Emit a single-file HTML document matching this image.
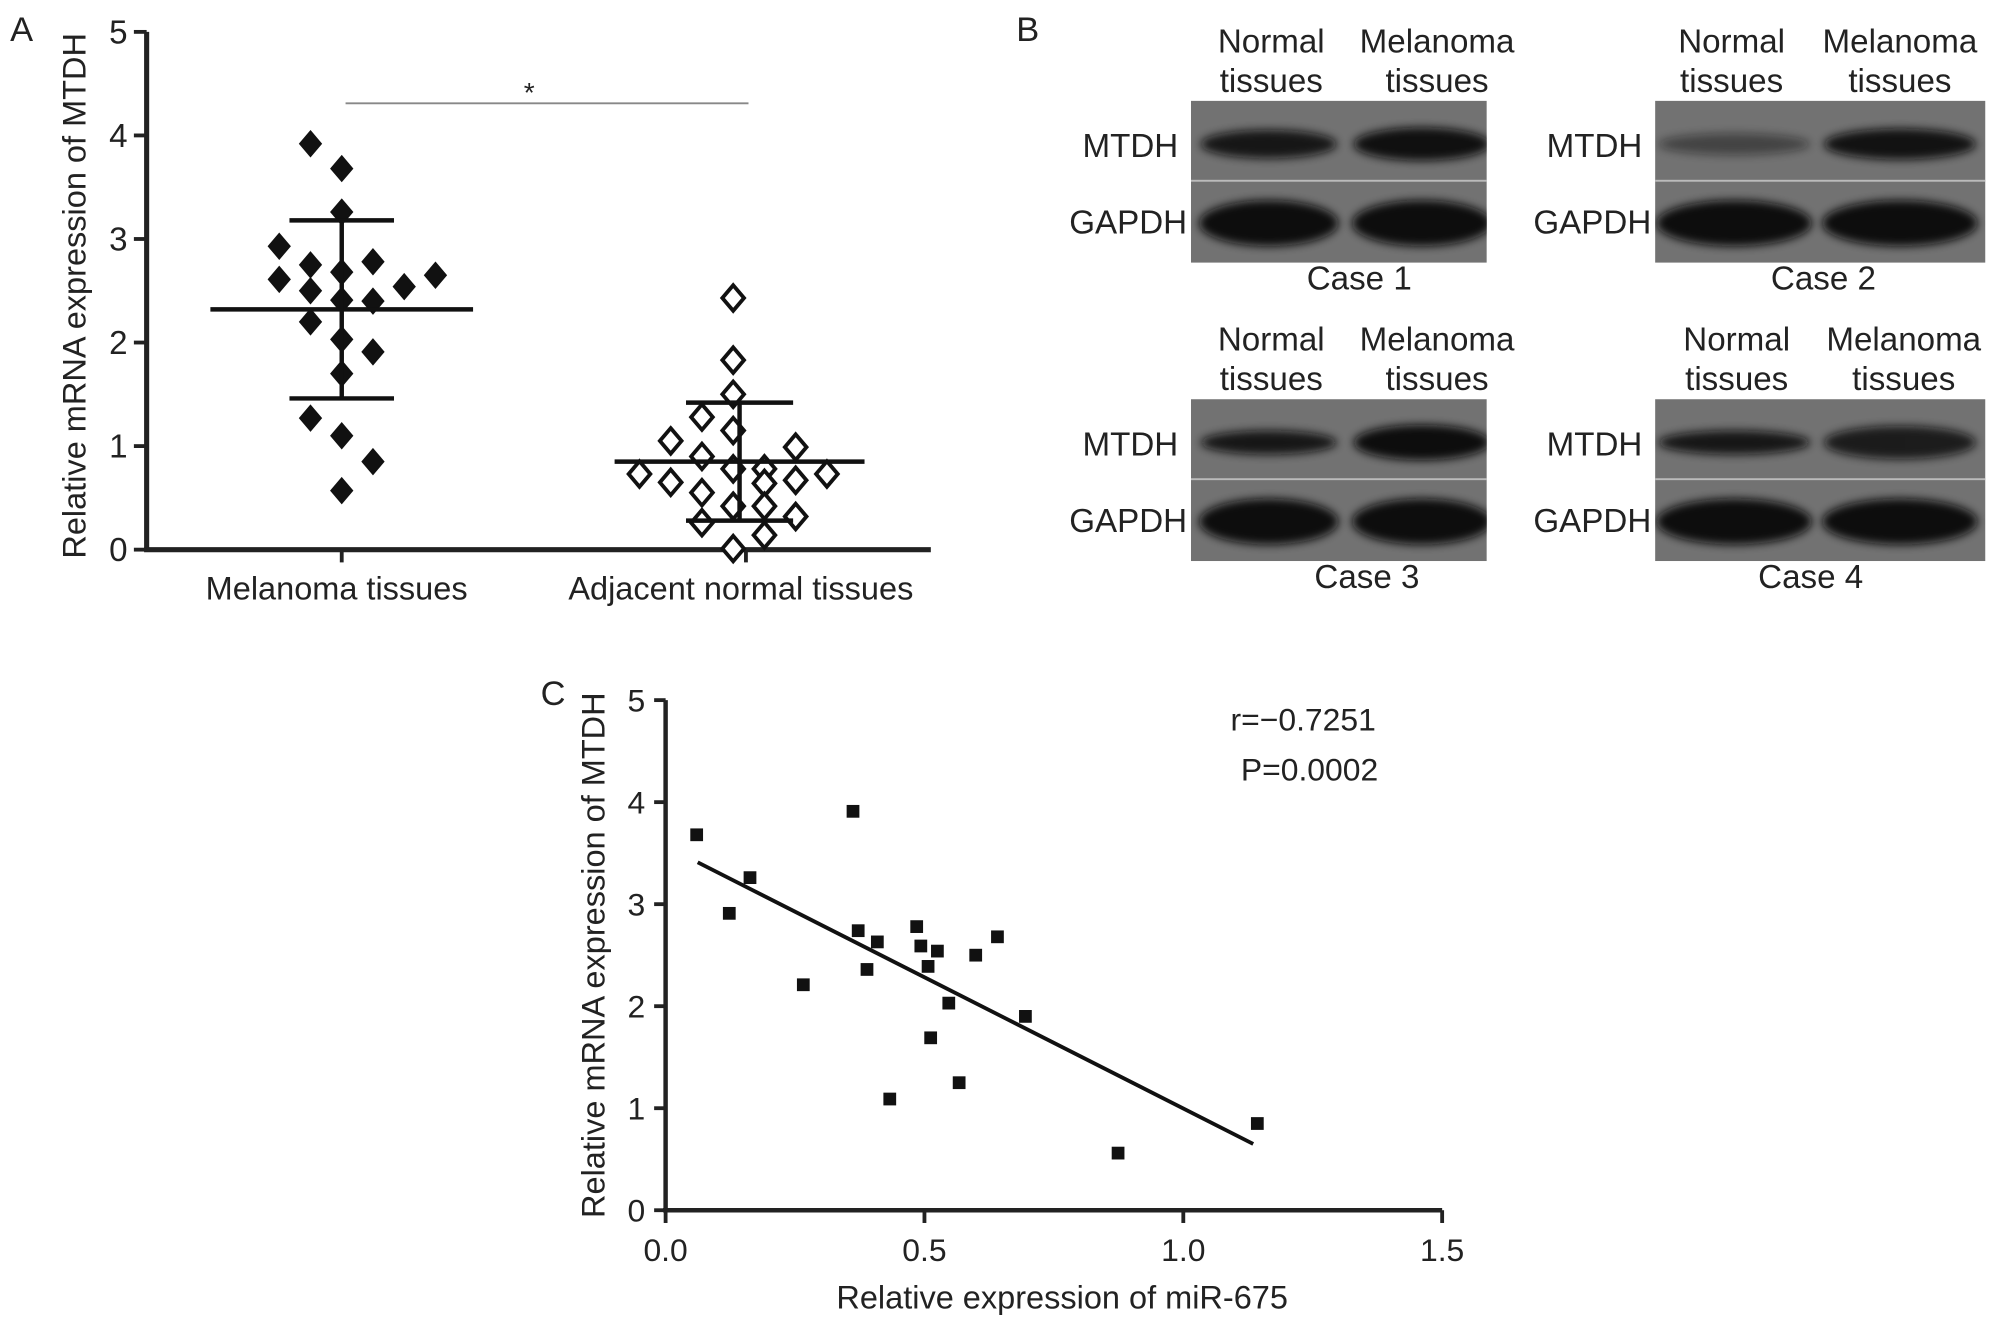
<!DOCTYPE html>
<html><head><meta charset="utf-8"><style>
html,body{margin:0;padding:0;background:#fff}
svg{display:block}
text{font-family:"Liberation Sans",sans-serif;fill:#222}
</style></head><body>
<svg id="fig" width="1993" height="1325" viewBox="0 0 1563 1039" preserveAspectRatio="none">
<defs id="defs"><filter id="blur" x="-20%" y="-50%" width="140%" height="200%"><feGaussianBlur stdDeviation="3.5"/></filter></defs>
<g id="panelA"></g>
<g id="panelB"></g>
<g id="panelC"></g>
</svg>
<script>
const NS='http://www.w3.org/2000/svg';
// Panel A data
const aCategories=['Melanoma tissues','Adjacent normal tissues'];
const aTicks=[0,1,2,3,4,5];
const melanomaValues=[3.92,3.68,3.26,2.93,2.75,2.68,2.78,2.61,2.5,2.54,2.65,2.41,2.4,2.2,2.03,1.91,1.7,1.27,1.1,0.85,0.57];
const melanomaOffsets=[-1,0,0,-2,-1,0,1,-2,-1,2,3,0,1,-1,0,1,0,-1,0,1,0];
const normalValues=[2.43,1.83,1.5,1.28,1.15,1.05,0.9,0.78,0.78,0.99,0.73,0.73,0.65,0.64,0.67,0.55,0.42,0.42,0.26,0.32,0.01,0.14];
const normalOffsets=[0,0,0,-1,0,-2,-1,0,1,2,-3,3,-2,1,2,-1,0,1,-1,2,0,1];
const aMeans=[2.32,0.85];
const aSD=[0.86,0.57];
// Panel C data
const cX=[0.06,0.123,0.163,0.266,0.362,0.372,0.389,0.409,0.485,0.493,0.507,0.525,0.512,0.547,0.567,0.599,0.641,0.695,0.433,0.874,1.143];
const cY=[3.68,2.91,3.26,2.21,3.91,2.74,2.36,2.63,2.78,2.59,2.39,2.54,1.69,2.03,1.25,2.5,2.68,1.9,1.09,0.56,0.85];
const cXTicks=['0.0','0.5','1.0','1.5'];
const cYTicks=[0,1,2,3,4,5];
const cFit=[[0.062,3.41],[1.135,0.65]];

function el(tag,attrs,parent,txt){const e=document.createElementNS(NS,tag);for(const k in attrs)e.setAttribute(k,attrs[k]);if(txt!==undefined)e.textContent=txt;parent.appendChild(e);return e;}

// ---- Panel A
const A=document.getElementById('panelA');
const ay=v=>431-v*81.2;
const catX=[268,585];
const jit=24.5;
let t=el('text',{x:8,y:32,'font-size':27},A,'A');

let l=el('line',{x1:115,y1:ay(5),x2:115,y2:ay(0)+1,stroke:'#222','stroke-width':4},A);

l=el('line',{x1:113,y1:ay(0),x2:730,y2:ay(0),stroke:'#222','stroke-width':4},A);

aTicks.forEach(v=>{
  const tk=el('line',{x1:105,y1:ay(v),x2:115,y2:ay(v),stroke:'#222','stroke-width':3},A);
  
  const tl=el('text',{x:100,y:ay(v)+9,'font-size':26,'text-anchor':'end'},A,String(v));
  
});
aCategories.forEach((c,i)=>{
  const tk=el('line',{x1:catX[i],y1:ay(0),x2:catX[i],y2:ay(0)+10,stroke:'#222','stroke-width':3},A);
  
  const tl=el('text',{x:catX[i]-4,y:470,'font-size':25.5,'text-anchor':'middle'},A,c);
  
});
t=el('text',{transform:'translate(67,232) rotate(-90)','font-size':25.5,'text-anchor':'middle'},A,'Relative mRNA expression of MTDH');

l=el('line',{x1:271,y1:81,x2:587,y2:81,stroke:'#888','stroke-width':1.5},A);

t=el('text',{x:415,y:80,'font-size':22,'text-anchor':'middle'},A,'*');

function diamond(cx,cy,filled){
  const r=10;
  return el('polygon',{points:`${cx},${cy-r} ${cx+r*0.85},${cy} ${cx},${cy+r} ${cx-r*0.85},${cy}`,fill:filled?'#111':'#fff',stroke:'#111','stroke-width':filled?1:3},A);
}
melanomaValues.forEach((v,i)=>{const p=diamond(catX[0]+melanomaOffsets[i]*jit,ay(v),true);
  });
normalValues.forEach((v,i)=>{const p=diamond(catX[1]-10+normalOffsets[i]*jit,ay(v),false);
  });
[[catX[0],103,41],[catX[1]-5,98,42]].forEach(([cx,hw,sw],i)=>{
  const m=aMeans[i],s=aSD[i];
  let e=el('line',{x1:cx-hw,y1:ay(m),x2:cx+hw,y2:ay(m),stroke:'#111','stroke-width':3.5},A);
  
  e=el('line',{x1:cx,y1:ay(m+s),x2:cx,y2:ay(m-s),stroke:'#111','stroke-width':3.5},A);
  
  e=el('line',{x1:cx-sw,y1:ay(m+s),x2:cx+sw,y2:ay(m+s),stroke:'#111','stroke-width':3.5},A);
  
  e=el('line',{x1:cx-sw,y1:ay(m-s),x2:cx+sw,y2:ay(m-s),stroke:'#111','stroke-width':3.5},A);
  
});

// ---- Panel B
const B=document.getElementById('panelB');
const defs=document.getElementById('defs');
t=el('text',{x:797,y:32,'font-size':27},B,'B');

const blots=[
 {x:934,y:79,w:232,lab:'Case 1',lx:[997,1127],cl:1066,bx:[995,1115],mt:[[0.9,0.8],[0.97,1]]},
 {x:1298,y:79,w:259,lab:'Case 2',lx:[1358,1490],cl:1430,bx:[1360,1490],mt:[[0.45,0.5],[0.95,0.9]]},
 {x:934,y:313,w:232,lab:'Case 3',lx:[997,1127],cl:1072,bx:[995,1115],mt:[[0.9,0.6],[1,1.1]]},
 {x:1298,y:313,w:259,lab:'Case 4',lx:[1362,1493],cl:1420,bx:[1360,1490],mt:[[0.9,0.6],[0.85,1]]}
];
blots.forEach((b,k)=>{
  const g=el('g',{},B);
  const cp=el('clipPath',{id:'clip'+k},defs);
  el('rect',{x:b.x,y:b.y,width:b.w,height:127},cp);
  [['Normal','tissues',b.lx[0]],['Melanoma','tissues',b.lx[1]]].forEach(([a,bb,cx])=>{
    const tx=el('text',{x:cx,y:b.y-38,'font-size':26,'text-anchor':'middle'},g,a);
    
    const tx2=el('text',{x:cx,y:b.y-7,'font-size':26,'text-anchor':'middle'},g,bb);
    
  });
  const inner=el('g',{'clip-path':`url(#clip${k})`},g);
  
  let r=el('rect',{x:b.x,y:b.y,width:b.w,height:127,fill:'#727272'},inner);
  
  b.bx.forEach((cx,i)=>{
    const [op,th]=b.mt[i];
    let e=el('ellipse',{cx:cx,cy:b.y+34,rx:b.w*0.23,ry:9*th+4,fill:'#0d0d0d',opacity:op,filter:'url(#blur)'},inner);
    
    e=el('ellipse',{cx:cx,cy:b.y+96,rx:b.w*0.235,ry:18,fill:'#0d0d0d',opacity:1,filter:'url(#blur)'},inner);
    
  });
  r=el('rect',{x:b.x,y:b.y+62,width:b.w,height:1.5,fill:'#bbb'},inner);
  
  let tx=el('text',{x:b.x-10,y:b.y+44,'font-size':26,'text-anchor':'end'},g,'MTDH');
  
  tx=el('text',{x:b.x-3,y:b.y+104,'font-size':26,'text-anchor':'end'},g,'GAPDH');
  
  tx=el('text',{x:b.cl,y:b.y+148,'font-size':26,'text-anchor':'middle'},g,b.lab);
  
});

// ---- Panel C
const C=document.getElementById('panelC');
const cx=v=>522+v*406, cy=v=>949-v*80;
t=el('text',{x:424,y:553,'font-size':27},C,'C');

l=el('line',{x1:522,y1:cy(5),x2:522,y2:cy(0)+1,stroke:'#222','stroke-width':3.5},C);

l=el('line',{x1:520,y1:cy(0),x2:cx(1.5),y2:cy(0),stroke:'#222','stroke-width':3.5},C);

cYTicks.forEach(v=>{
  const tk=el('line',{x1:513,y1:cy(v),x2:522,y2:cy(v),stroke:'#222','stroke-width':3},C);
  
  const tl=el('text',{x:506,y:cy(v)+9,'font-size':25,'text-anchor':'end'},C,String(v));
  
});
cXTicks.forEach(s=>{
  const v=parseFloat(s);
  const tk=el('line',{x1:cx(v),y1:cy(0),x2:cx(v),y2:cy(0)+10,stroke:'#222','stroke-width':3},C);
  
  const tl=el('text',{x:cx(v),y:cy(0)+40,'font-size':25,'text-anchor':'middle'},C,s);
  
});
t=el('text',{transform:'translate(474,749) rotate(-90)','font-size':25.5,'text-anchor':'middle'},C,'Relative mRNA expression of MTDH');

t=el('text',{x:833,y:1026,'font-size':25.5,'text-anchor':'middle'},C,'Relative expression of miR-675');

t=el('text',{x:1022,y:573,'font-size':25,'text-anchor':'middle'},C,'r=\u22120.7251');

t=el('text',{x:1027,y:612,'font-size':25,'text-anchor':'middle'},C,'P=0.0002');

l=el('line',{x1:cx(cFit[0][0]),y1:cy(cFit[0][1]),x2:cx(cFit[1][0]),y2:cy(cFit[1][1]),stroke:'#111','stroke-width':3},C);

cX.forEach((xv,i)=>{
  const r=el('rect',{x:cx(xv)-5,y:cy(cY[i])-5,width:10,height:10,fill:'#111'},C);
  
});
</script>
</body></html>
